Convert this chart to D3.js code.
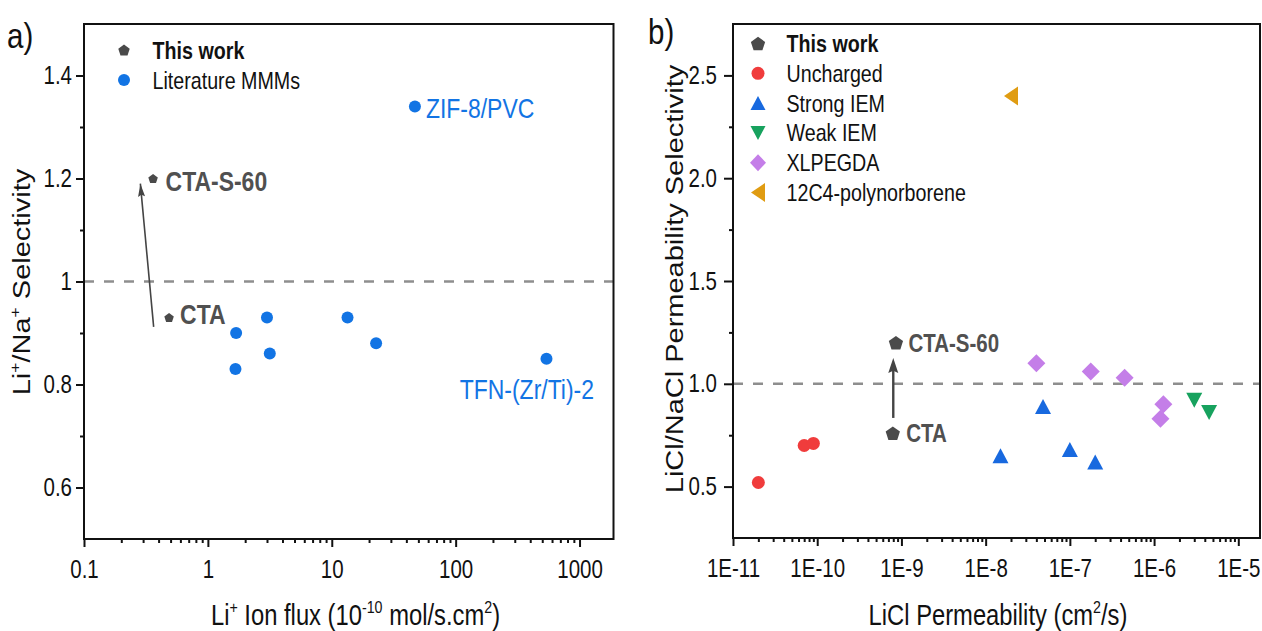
<!DOCTYPE html>
<html>
<head>
<meta charset="utf-8">
<script src="https://cdn.jsdelivr.net/npm/d3@7"></script>
<style>
  body { margin: 0; background: #fff; }
  text { font-family: "Liberation Sans", Arial, sans-serif; }
</style>
</head>
<body>
<div id="viz"></div>
<script>

// ---- panel a data ----
let workNamesA = ["CTA", "CTA-S-60"];
let fluxWork = [0.486, 0.361];
let selWork = [0.93, 1.20];

let fluxLit = [46.9, 3.0, 13.4, 1.69, 3.16, 22.8, 1.67, 541];
let selLit = [1.34, 0.93, 0.93, 0.90, 0.86, 0.88, 0.83, 0.85];

let xTicksA = [0.1, 1, 10, 100, 1000];
let xTickLabelsA = ["0.1", "1", "10", "100", "1000"];
let yTicksA = [0.6, 0.8, 1, 1.2, 1.4];
let yTickLabelsA = ["0.6", "0.8", "1", "1.2", "1.4"];
let yMinorA = [0.7, 0.9, 1.1, 1.3];

// ---- panel b data ----
let workNamesB = ["CTA", "CTA-S-60"];
let permWork = [7.9e-10, 8.6e-10];
let selBWork = [0.76, 1.20];

let permUncharged = [2.0e-11, 7.0e-11, 9.0e-11];
let selUncharged = [0.52, 0.70, 0.71];
let permStrong = [1.5e-8, 4.8e-8, 1.0e-7, 2.0e-7];
let selStrong = [0.65, 0.89, 0.68, 0.62];
let permWeak = [3.0e-6, 4.5e-6];
let selWeak = [0.92, 0.86];
let permXL = [4.0e-8, 1.77e-7, 4.47e-7, 1.29e-6, 1.19e-6];
let selXL = [1.10, 1.06, 1.03, 0.90, 0.83];
let permPoly = [2.0e-8];
let selPoly = [2.40];

let xTicksB = [1e-11, 1e-10, 1e-9, 1e-8, 1e-7, 1e-6, 1e-5];
let xTickLabelsB = ["1E-11", "1E-10", "1E-9", "1E-8", "1E-7", "1E-6", "1E-5"];
let yTicksB = [0.5, 1.0, 1.5, 2.0, 2.5];
let yTickLabelsB = ["0.5", "1.0", "1.5", "2.0", "2.5"];
let yMinorB = [0.75, 1.25, 1.75, 2.25];

let legendB = ["This work", "Uncharged", "Strong IEM", "Weak IEM", "XLPEGDA", "12C4-polynorborene"];

// colours
let gray = "#4a4a4a";
let blueA = "#1274e4";
let red = "#f03c3c";
let blueB = "#1869df";
let green = "#17a25e";
let purple = "#c47ee8";
let orange = "#e09c12";

const FX = 0.82;   // narrow font look

let W = 1262, H = 631;
let svg = d3.select("#viz").append("svg")
  .attr("width", W).attr("height", H);

// marker outlines, centred on 0,0
function shape(kind, w, h) {
  h = h || w;
  let pts;
  if (kind === "pent") {
    let r = w / 2;
    pts = d3.range(5).map(k => {
      let a = (-90 + 72 * k) * Math.PI / 180;
      return [r * Math.cos(a), r * Math.sin(a) + r * 0.1];
    });
  } else if (kind === "up") {
    pts = [[0, -h / 2], [w / 2, h / 2], [-w / 2, h / 2]];
  } else if (kind === "down") {
    pts = [[-w / 2, -h / 2], [w / 2, -h / 2], [0, h / 2]];
  } else if (kind === "left") {
    pts = [[-w / 2, 0], [w / 2, -h / 2], [w / 2, h / 2]];
  } else if (kind === "diamond") {
    pts = [[0, -h / 2], [w / 2, 0], [0, h / 2], [-w / 2, 0]];
  }
  return d3.line().curve(d3.curveLinearClosed)(pts);
}

// text with optional superscripts; parts = [[str, isSup], ...]
function richText(g, x, y, parts, size, opts) {
  opts = opts || {};
  let t = g.append("text")
    .attr("transform", `translate(${x},${y})` + (opts.rotate ? ` scale(${FX},1) rotate(-90)` : ` scale(${FX},1)`))
    .attr("font-size", size)
    .attr("fill", opts.fill || "#111")
    .attr("font-weight", opts.bold ? "bold" : "normal")
    .attr("text-anchor", opts.anchor || "start");
  let up = false;
  parts.forEach(p => {
    let ts = t.append("tspan").text(p[0]);
    if (p[1] && !up) { ts.attr("font-size", size * 0.6).attr("dy", -size * 0.42); up = true; }
    else if (p[1]) { ts.attr("font-size", size * 0.6); }
    else if (!p[1] && up) { ts.attr("dy", size * 0.42); up = false; }
  });
  return t;
}

function styleAxis(g, side, offset) {
  g.select(".domain").remove();
  g.selectAll(".tick line").attr("stroke", "#111").attr("stroke-width", 2);
  g.selectAll(".tick text")
    .attr("font-size", 25)
    .attr("fill", "#111")
    .attr("font-family", "'Liberation Sans', Arial, sans-serif");
  if (side === "left") {
    g.selectAll(".tick text").attr("x", 0)
      .attr("transform", `translate(${-offset},0) scale(${FX},1)`);
  } else {
    g.selectAll(".tick text").attr("transform", `scale(${FX},1)`);
  }
}

function minorLog(lo, hi) {
  let out = [];
  for (let e = Math.floor(Math.log10(lo)); e <= Math.ceil(Math.log10(hi)); e++) {
    for (let m = 2; m <= 9; m++) {
      let v = m * Math.pow(10, e);
      if (v > lo && v < hi) out.push(v);
    }
  }
  return out;
}

function arrowHead(g, x1, y1, x2, y2, len, wid, color) {
  let ang = Math.atan2(y2 - y1, x2 - x1) * 180 / Math.PI;
  g.append("path")
    .attr("d", d3.line()([[0, 0], [-len, -wid / 2], [-len * 0.85, 0], [-len, wid / 2]]) + "Z")
    .attr("transform", `translate(${x2},${y2}) rotate(${ang})`)
    .attr("fill", color);
}

/**************** panel a ****************/
let boxA = { left: 84, right: 613.5, top: 24, bottom: 539 };
let xA = d3.scaleLog().domain([0.1, 1880]).range([boxA.left, boxA.right]);
let yA = d3.scaleLinear().domain([0.5, 1.5]).range([boxA.bottom, boxA.top]);

let gA = svg.append("g");

gA.append("g")
  .attr("transform", `translate(0,${boxA.bottom})`)
  .call(d3.axisBottom(xA).tickValues(minorLog(0.1, 1880)).tickFormat("").tickSize(4))
  .call(g => styleAxis(g, "bottom"));
gA.append("g")
  .attr("transform", `translate(0,${boxA.bottom})`)
  .call(d3.axisBottom(xA).tickValues(xTicksA).tickFormat((d, i) => xTickLabelsA[i]).tickSize(8).tickPadding(13))
  .call(g => styleAxis(g, "bottom"));

gA.append("g")
  .attr("transform", `translate(${boxA.left},0)`)
  .call(d3.axisLeft(yA).tickValues(yMinorA).tickFormat("").tickSize(4))
  .call(g => styleAxis(g, "left", 0));
gA.append("g")
  .attr("transform", `translate(${boxA.left},0)`)
  .call(d3.axisLeft(yA).tickValues(yTicksA).tickFormat((d, i) => yTickLabelsA[i]).tickSize(8))
  .call(g => styleAxis(g, "left", 12));

// reference line at 1
gA.append("line")
  .attr("x1", boxA.left).attr("x2", boxA.right)
  .attr("y1", yA(1)).attr("y2", yA(1))
  .attr("stroke", "#8e8e8e").attr("stroke-width", 2.5)
  .attr("stroke-dasharray", "10,10");

gA.append("rect")
  .attr("x", boxA.left).attr("y", boxA.top)
  .attr("width", boxA.right - boxA.left).attr("height", boxA.bottom - boxA.top)
  .attr("fill", "none").attr("stroke", "#111").attr("stroke-width", 2);

// arrow CTA -> CTA-S-60
let arA = [xA(0.365), yA(0.912), xA(0.285), yA(1.19)];
gA.append("line")
  .attr("x1", arA[0]).attr("y1", arA[1]).attr("x2", arA[2]).attr("y2", arA[3])
  .attr("stroke", "#444").attr("stroke-width", 1.6);
arrowHead(gA, arA[0], arA[1], arA[2], arA[3], 13, 7, "#444");

// literature points
gA.append("g").selectAll("circle")
  .data(fluxLit)
  .enter().append("circle")
  .attr("cx", d => xA(d))
  .attr("cy", (d, i) => yA(selLit[i]))
  .attr("r", 6)
  .attr("fill", blueA);

// this work
gA.append("g").selectAll("path")
  .data(fluxWork)
  .enter().append("path")
  .attr("d", shape("pent", 10))
  .attr("transform", (d, i) => `translate(${xA(d)},${yA(selWork[i])})`)
  .attr("fill", gray);

richText(gA, xA(fluxWork[0]) + 11, yA(selWork[0]) + 6, [[workNamesA[0]]], 28, { bold: true, fill: "#505050" });
richText(gA, xA(fluxWork[1]) + 12.5, yA(selWork[1]) + 12.5, [[workNamesA[1]]], 28, { bold: true, fill: "#505050" });
richText(gA, xA(fluxLit[0]) + 11, yA(selLit[0]) + 11.5, [["ZIF-8/PVC"]], 28, { fill: blueA });
richText(gA, xA(fluxLit[7]) + 47.5, yA(selLit[7]) + 40, [["TFN-(Zr/Ti)-2"]], 28, { fill: blueA, anchor: "end" });

// legend
gA.append("path").attr("d", shape("pent", 12))
  .attr("transform", "translate(124,50)").attr("fill", gray);
richText(gA, 152.5, 58.5, [["This work"]], 24, { bold: true });
gA.append("circle").attr("cx", 124).attr("cy", 80).attr("r", 6).attr("fill", blueA);
richText(gA, 152.5, 88.5, [["Literature MMMs"]], 24);

// titles
richText(gA, 355.5, 625, [["Li"], ["+", 1], [" Ion flux (10"], ["-10", 1], [" mol/s.cm"], ["2", 1], [")"]], 29, { anchor: "middle" });
richText(gA, 30, 282, [["Li"], ["+", 1], ["/Na"], ["+", 1], [" Selectivity"]], 29, { anchor: "middle", rotate: true });
richText(gA, 7, 48, [["a)"]], 36);

/**************** panel b ****************/
let boxB = { left: 733, right: 1260, top: 24, bottom: 538 };
let xB = d3.scaleLog().domain([1e-11, 1.81e-5]).range([boxB.left, boxB.right]);
let yB = d3.scaleLinear().domain([0.25, 2.75]).range([boxB.bottom, boxB.top]);

let gB = svg.append("g");

gB.append("g")
  .attr("transform", `translate(0,${boxB.bottom})`)
  .call(d3.axisBottom(xB).tickValues(minorLog(1e-11, 1.81e-5)).tickFormat("").tickSize(4))
  .call(g => styleAxis(g, "bottom"));
gB.append("g")
  .attr("transform", `translate(0,${boxB.bottom})`)
  .call(d3.axisBottom(xB).tickValues(xTicksB).tickFormat((d, i) => xTickLabelsB[i]).tickSize(8).tickPadding(13))
  .call(g => styleAxis(g, "bottom"));

gB.append("g")
  .attr("transform", `translate(${boxB.left},0)`)
  .call(d3.axisLeft(yB).tickValues(yMinorB).tickFormat("").tickSize(4))
  .call(g => styleAxis(g, "left", 0));
gB.append("g")
  .attr("transform", `translate(${boxB.left},0)`)
  .call(d3.axisLeft(yB).tickValues(yTicksB).tickFormat((d, i) => yTickLabelsB[i]).tickSize(9))
  .call(g => styleAxis(g, "left", 16));

gB.append("line")
  .attr("x1", boxB.left).attr("x2", boxB.right)
  .attr("y1", yB(1)).attr("y2", yB(1))
  .attr("stroke", "#8e8e8e").attr("stroke-width", 2.5)
  .attr("stroke-dasharray", "10,10");

gB.append("rect")
  .attr("x", boxB.left).attr("y", boxB.top)
  .attr("width", boxB.right - boxB.left).attr("height", boxB.bottom - boxB.top)
  .attr("fill", "none").attr("stroke", "#111").attr("stroke-width", 2);

// arrow
let arB = [xB(8.0e-10), yB(0.834), xB(8.0e-10), yB(1.125)];
gB.append("line")
  .attr("x1", arB[0]).attr("y1", arB[1]).attr("x2", arB[2]).attr("y2", arB[3] + 8)
  .attr("stroke", "#444").attr("stroke-width", 2.4);
arrowHead(gB, arB[0], arB[1], arB[2], arB[3], 15, 10, "#444");

function markers(g, xs, ys, color, kind, w, h) {
  g.append("g").selectAll("path")
    .data(xs)
    .enter().append("path")
    .attr("d", shape(kind, w, h))
    .attr("transform", (d, i) => `translate(${xB(d)},${yB(ys[i])})`)
    .attr("fill", color);
}

gB.append("g").selectAll("circle")
  .data(permUncharged)
  .enter().append("circle")
  .attr("cx", d => xB(d))
  .attr("cy", (d, i) => yB(selUncharged[i]))
  .attr("r", 6.5)
  .attr("fill", red);

markers(gB, permStrong, selStrong, blueB, "up", 16, 15);
markers(gB, permWeak, selWeak, green, "down", 16, 15);
markers(gB, permXL, selXL, purple, "diamond", 18, 18);
markers(gB, permPoly, selPoly, orange, "left", 14, 19);
markers(gB, permWork, selBWork, gray, "pent", 15, 15);

richText(gB, xB(permWork[0]) + 13.5, yB(selBWork[0]) + 9, [[workNamesB[0]]], 25, { bold: true, fill: "#505050" });
richText(gB, xB(permWork[1]) + 12.5, yB(selBWork[1]) + 9.5, [[workNamesB[1]]], 25, { bold: true, fill: "#505050" });

// legend
let legendKinds = ["pent", "circle", "up", "down", "diamond", "left"];
let legendColors = [gray, red, blueB, green, purple, orange];
legendB.forEach((name, i) => {
  let cy = 43.5 + i * 29.8;
  if (legendKinds[i] === "circle") {
    gB.append("circle").attr("cx", 758).attr("cy", cy).attr("r", 6.5).attr("fill", legendColors[i]);
  } else {
    let w = legendKinds[i] === "left" ? 14 : (legendKinds[i] === "diamond" ? 16 : 15);
    let h = legendKinds[i] === "left" ? 19 : (legendKinds[i] === "diamond" ? 17 : 14);
    gB.append("path").attr("d", shape(legendKinds[i], w, h))
      .attr("transform", `translate(758,${cy})`).attr("fill", legendColors[i]);
  }
  richText(gB, 786.5, cy + 8.5, [[name]], 24, { bold: i === 0 });
});

richText(gB, 998, 625, [["LiCl Permeability (cm"], ["2", 1], ["/s)"]], 29, { anchor: "middle" });
richText(gB, 683, 279, [["LiCl/NaCl Permeability Selectivity"]], 29, { anchor: "middle", rotate: true });
richText(gB, 648, 44, [["b)"]], 36);

</script>
</body>
</html>
